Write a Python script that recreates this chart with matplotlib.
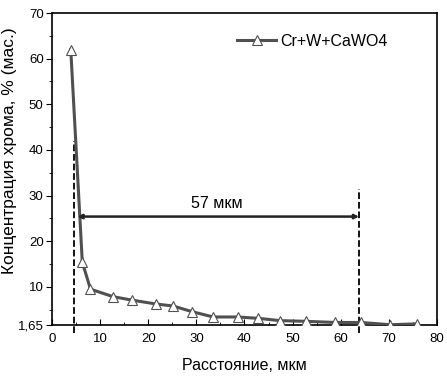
import matplotlib
matplotlib.use("Agg")
import matplotlib.pyplot as plt
from matplotlib.ticker import MultipleLocator

plt.rcParams['font.family'] = ['Liberation Sans', 'DejaVu Sans']

# data
distance = [3.9, 6.3, 8.0, 12.7, 16.6, 21.6, 25.2, 29.0, 33.5, 38.6, 42.9,
            47.4, 52.8, 58.9, 64.2, 70.3, 75.8]
chromium = [62.0, 15.4, 9.5, 7.85, 7.1, 6.25, 5.8, 4.6, 3.4, 3.4, 3.1,
            2.6, 2.45, 2.2, 2.2, 1.7, 1.9]
series_label = "Cr+W+CaWO4"

left_mark = 4.6
right_mark = 63.8
left_mark_top = 42.0
right_mark_top = 31.4
arrow_y = 25.4
width_label = "57 мкм"

y_ticks = [1.65, 10, 20, 30, 40, 50, 60, 70]
y_tick_labels = ["1,65", "10", "20", "30", "40", "50", "60", "70"]

fig = plt.figure(figsize=(4.47, 3.77), dpi=100)
ax = fig.add_axes([0.1163, 0.138, 0.8613, 0.8275])

ax.plot(distance, chromium, color='#505050', lw=2.2, marker='^', ms=7,
        mfc='white', mec='#505050', mew=0.8, label=series_label, zorder=3)

# dashed boundaries of the layer
ax.plot([left_mark, left_mark], [0, left_mark_top], 'k--', lw=1.3, clip_on=False)
ax.plot([right_mark, right_mark], [0, right_mark_top], 'k--', lw=1.3, clip_on=False)
ax.annotate("", xy=(right_mark, arrow_y), xytext=(left_mark + 0.7, arrow_y),
            arrowprops=dict(arrowstyle='<|-|>', color='#222222', lw=1.8,
                            mutation_scale=6, shrinkA=0, shrinkB=0))
ax.text((left_mark + right_mark) / 2, arrow_y + 1.3, width_label,
        ha='center', va='bottom', fontsize=11.5)

ax.set_xlim(0, 80)
ax.set_ylim(1.65, 70)
ax.xaxis.set_major_locator(MultipleLocator(10))
ax.xaxis.set_minor_locator(MultipleLocator(5))
ax.set_yticks(y_ticks)
ax.set_yticklabels(y_tick_labels)
ax.yaxis.set_minor_locator(MultipleLocator(5))
ax.tick_params(axis='x', which='both', direction='in', labelsize=9.5, pad=6)
ax.tick_params(axis='y', which='both', direction='out', labelsize=9.5, pad=2)
ax.tick_params(which='major', length=4)
ax.tick_params(which='minor', length=2.5)
for s in ax.spines.values():
    s.set_linewidth(1.2)

ax.set_xlabel("Расстояние, мкм", fontsize=11.5, labelpad=9)
ax.set_ylabel("Концентрация хрома, % (мас.)", fontsize=12.5)
ax.yaxis.set_label_coords(-0.09, 0.56)

ax.legend(loc='upper right', frameon=False, fontsize=11.5,
          bbox_to_anchor=(0.91, 0.98), handlelength=2.4, handletextpad=0.3)

fig.savefig("out.png", dpi=100)
